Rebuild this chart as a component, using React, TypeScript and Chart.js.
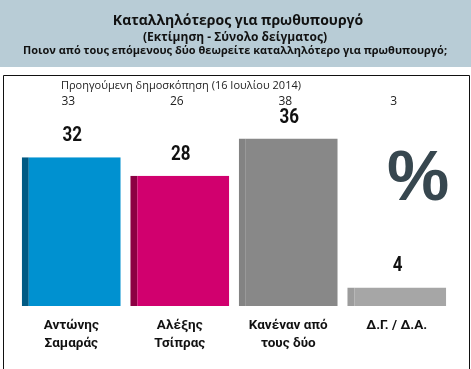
import React, { useEffect, useRef } from "react";
import { Chart, registerables } from "chart.js";

Chart.register(...registerables);

const categories: string[][] = [
  ["Αντώνης", "Σαμαράς"],
  ["Αλέξης", "Τσίπρας"],
  ["Κανέναν από", "τους δύο"],
  ["Δ.Γ. / Δ.Α."],
];
const currentValues: number[] = [32, 28, 36, 4];
const previousValues: number[] = [33, 26, 38, 3];
const barColors: string[] = ["#0091d0", "#d1006e", "#888888", "#a6a6a6"];
const stripColors: string[] = ["#005a84", "#8c0043", "#838383", "#9c9c9c"];

const titleText = "Καταλληλότερος για πρωθυπουργό";
const subtitleText = "(Εκτίμηση - Σύνολο δείγματος)";
const questionText = "Ποιον από τους επόμενους δύο θεωρείτε καταλληλότερο για πρωθυπουργό;";
const previousTitle = "Προηγούμενη δημοσκόπηση (16 Ιουλίου 2014)";
const unitText = "%";

const COND = 'Roboto, "Noto Sans", sans-serif';
const HEAD = '"Open Sans", "Noto Sans", sans-serif';

const decorPlugin = {
  id: "decor",
  beforeDraw(chart: any) {
    const { ctx, width, height } = chart;
    ctx.save();
    ctx.fillStyle = "#ffffff";
    ctx.fillRect(0, 0, width, height);
    ctx.fillStyle = "#b8ccd6";
    ctx.fillRect(0, 0, width, 67);
    ctx.fillStyle = "#111111";
    ctx.textAlign = "center";
    ctx.textBaseline = "alphabetic";
    ctx.font = `bold 14px ${HEAD}`;
    ctx.fillText(titleText, 238, 25);
    ctx.font = `bold 12px ${HEAD}`;
    ctx.fillText(subtitleText, 235, 41);
    ctx.font = `bold 11px ${HEAD}`;
    ctx.fillText(questionText, 235, 54);
    ctx.strokeStyle = "#111111";
    ctx.lineWidth = 1;
    ctx.beginPath();
    ctx.moveTo(3.5, height);
    ctx.lineTo(3.5, 75.5);
    ctx.lineTo(469.5, 75.5);
    ctx.lineTo(469.5, height);
    ctx.stroke();
    ctx.restore();
  },
  afterDatasetsDraw(chart: any) {
    const { ctx } = chart;
    const meta = chart.getDatasetMeta(0);
    const xScale = chart.scales.x;
    ctx.save();
    ctx.fillStyle = "#222222";
    ctx.textAlign = "left";
    ctx.textBaseline = "middle";
    ctx.font = `11px ${HEAD}`;
    ctx.fillText(previousTitle, 61, 86);
    ctx.textAlign = "center";
    ctx.font = `12px ${HEAD}`;
    previousValues.forEach((v, i) => {
      ctx.fillText(String(v), xScale.getPixelForValue(i) - 3, 102);
    });
    ctx.fillStyle = "#111111";
    ctx.font = `bold 20px ${COND}`;
    meta.data.forEach((bar: any, i: number) => {
      ctx.save();
      ctx.translate(bar.x + 1, bar.y - 21);
      ctx.scale(0.85, 1);
      ctx.fillText(String(currentValues[i]), 0, 0);
      ctx.restore();
    });
    ctx.fillStyle = "#37474f";
    ctx.font = `bold 70px "Liberation Sans", Arial, sans-serif`;
    ctx.fillText(unitText, 418, 181);
    ctx.restore();
  },
};

export default function App() {
  const ref = useRef<HTMLCanvasElement>(null);
  useEffect(() => {
    if (!ref.current) return;
    const chart = new Chart(ref.current, {
      type: "bar",
      data: {
        labels: categories,
        datasets: [
          {
            data: currentValues,
            backgroundColor: barColors,
            borderColor: stripColors,
            borderWidth: { left: 7, right: 0, top: 0, bottom: 0 },
            borderSkipped: false,
            barPercentage: 0.912,
            categoryPercentage: 1,
          },
        ],
      },
      options: {
        responsive: false,
        animation: false,
        layout: { padding: { left: 17, right: 20, top: 120, bottom: 5 } },
        plugins: { legend: { display: false }, tooltip: { enabled: false } },
        scales: {
          x: {
            grid: { display: false, drawTicks: false },
            border: { display: false },
            ticks: {
              color: "#111111",
              padding: 11,
              font: { family: COND, size: 13.5, weight: "bold", lineHeight: "18px" },
            },
          },
          y: { display: false, min: 0, max: 40 },
        },
      },
      plugins: [decorPlugin],
    });
    return () => chart.destroy();
  }, []);
  return (
    <div style={{ position: "fixed", left: 0, top: 0, width: 471, height: 369 }}>
      <canvas ref={ref} width={471} height={369} />
    </div>
  );
}
